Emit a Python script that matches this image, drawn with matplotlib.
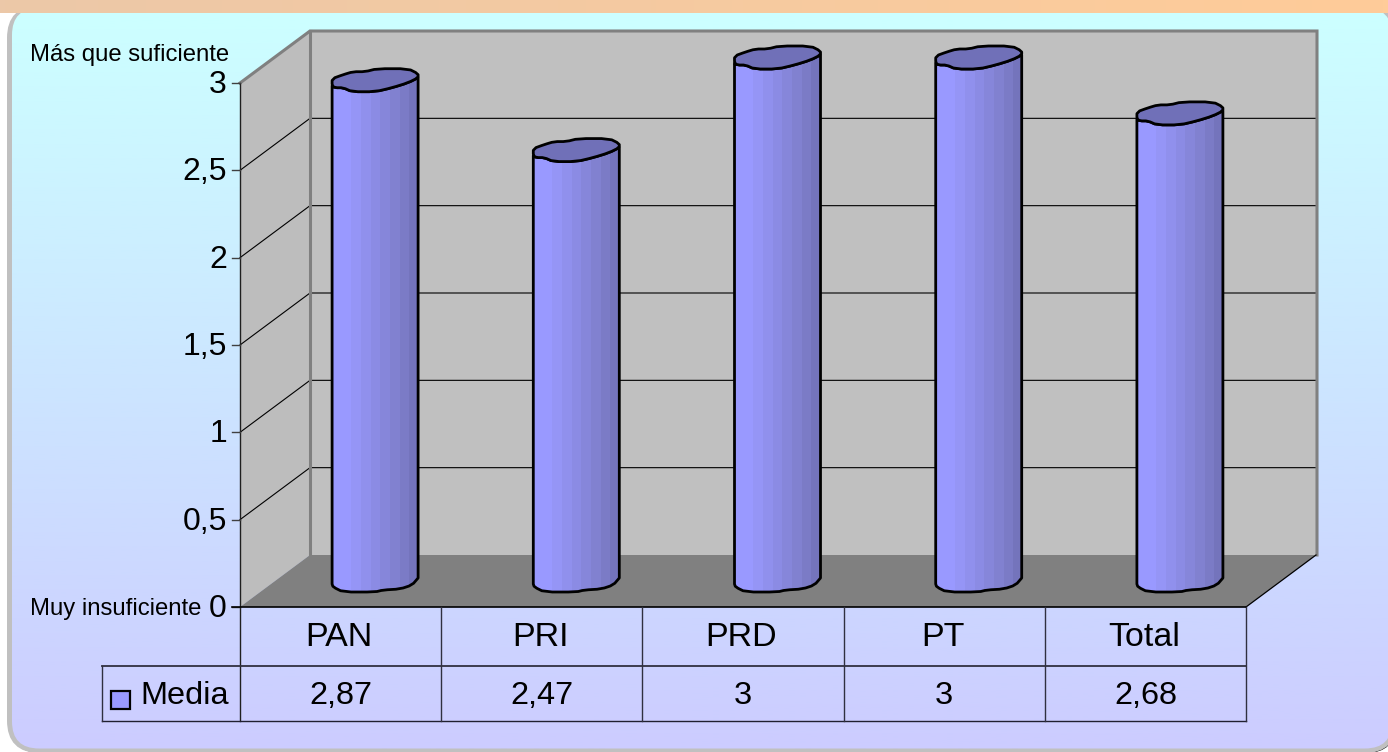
"""Grafica 3D de columnas con tabla de datos: media por partido."""
import numpy as np
import matplotlib
matplotlib.use("Agg")
import matplotlib.pyplot as plt
from matplotlib.colors import LinearSegmentedColormap
from matplotlib.patches import FancyBboxPatch, Polygon, Rectangle

plt.rcParams["font.family"] = ["Liberation Sans", "DejaVu Sans"]

categories = ["PAN", "PRI", "PRD", "PT", "Total"]
values = [2.87, 2.47, 3, 3, 2.68]
value_labels = ["2,87", "2,47", "3", "3", "2,68"]
ticks = [0, 0.5, 1, 1.5, 2, 2.5, 3]
tick_labels = ["0", "0,5", "1", "1,5", "2", "2,5", "3"]
series_name = "Media"
top_note = "Más que suficiente"
bottom_note = "Muy insuficiente"

W, H = 1388, 752
X0, X1 = 240, 1246      # plano frontal
Y0, Y3 = 607, 83        # valor 0 y valor 3
DX, DY = 70, -52        # profundidad 3D
ROW1, ROW2 = 666, 721   # filas de la tabla
LEG_X = 102

# contorno irregular de la columna (relativo al centro)
TOP_SHAPE = [(-43, 6), (-43, -1), (-32, -5), (-22, -8), (-10, -8), (2, -11), (33, -11),
             (43, -6), (43, -2), (33, 3), (17, 8), (0, 12), (-23, 12), (-32, 8), (-40, 8)]
BOTTOM_SHAPE = [(-43, 3), (-42, 6), (-32, 11), (0, 11), (8, 9), (25, 8), (37, 4), (43, -3)]
BAR_STOPS = ["#9999FF", "#9999FF", "#9494F4", "#8F8FEA", "#8989DF", "#8383D3", "#7C7CC8", "#7474BC"]


def val_y(v):
    return Y0 - v * (Y0 - Y3) / max(ticks)


def smooth(points, closed=True):
    # un paso de Chaikin para redondear el contorno
    pts = np.array(points, dtype=float)
    nxt = np.roll(pts, -1, axis=0) if closed else pts[1:]
    cur = pts if closed else pts[:-1]
    out = np.empty((2 * len(cur), 2))
    out[0::2] = 0.75 * cur + 0.25 * nxt
    out[1::2] = 0.25 * cur + 0.75 * nxt
    if not closed:
        out = np.vstack([pts[0], out, pts[-1]])
    return out


fig = plt.figure(figsize=(W / 100, H / 100), dpi=100, facecolor="white")
ax = fig.add_axes([0, 0, 1, 1])
ax.set_axis_off()

# --- fondo: marco redondeado con degradado ---
frame = dict(boxstyle="round,pad=0,rounding_size=30")
ax.add_patch(FancyBboxPatch((11, 10), 1385, 743, fc="black", ec="none", zorder=1, **frame))
ax.add_patch(FancyBboxPatch((9.5, 8), 1385, 742.5, fc="#C0C0C0", ec="#C0C0C0", lw=3.6, zorder=2, **frame))
bg_cmap = LinearSegmentedColormap.from_list("bg", ["#CCFFFF", "#CCCCFF"])
bg = ax.imshow(np.linspace(0, 1, 256)[:, None], extent=[7, W + 10, 749, 13], cmap=bg_cmap,
               aspect="auto", zorder=3)
inner = FancyBboxPatch((12, 8), 1380, 740.5, fc="none", ec="none", zorder=3,
                       boxstyle="round,pad=0,rounding_size=27")
ax.add_patch(inner)
bg.set_clip_path(inner)

strip_cmap = LinearSegmentedColormap.from_list("strip", ["#ECC8A8", "#FFCC99"])
ax.imshow(np.linspace(0, 1, 256)[None, :], extent=[0, W, 13, 0], cmap=strip_cmap,
          aspect="auto", zorder=4)

# --- paredes y piso ---
ax.add_patch(Polygon([(X0, Y3), (X0 + DX, Y3 + DY), (X0 + DX, Y0 + DY), (X0, Y0)],
                     fc="#BDBDBD", ec="none", zorder=5))
ax.add_patch(Rectangle((X0 + DX, Y3 + DY), X1 - X0, Y0 - Y3, fc="#C0C0C0", ec="none", zorder=5))
ax.add_patch(Polygon([(X0, Y0), (X0 + DX, Y0 + DY), (X1 + DX, Y0 + DY), (X1, Y0)],
                     fc="#808080", ec="none", zorder=6))

# rejilla
for t in ticks[1:-1]:
    y = val_y(t)
    ax.plot([X0, X0 + DX, X1 + DX], [y, y + DY, y + DY], color="black", lw=0.8, zorder=6)

# borde gris de las paredes
ax.plot([X0, X0 + DX, X1 + DX + 1, X1 + DX + 1], [Y3, Y3 + DY, Y3 + DY, Y0 + DY],
        color="#808080", lw=2.2, zorder=6, solid_joinstyle="miter")
ax.plot([X0 + DX, X0 + DX], [Y3 + DY, Y0 + DY], color="#808080", lw=2.2, zorder=6)
ax.plot([X1, X1 + DX], [Y0, Y0 + DY], color="black", lw=0.9, zorder=6)

# --- columnas ---
slot = (X1 - X0) / len(categories)
bar_cmap = LinearSegmentedColormap.from_list("bar", BAR_STOPS, N=9)
for i, v in enumerate(values):
    cx = X0 + slot * (i + 0.5) + DX / 2 - 0.5
    top_y = val_y(v) + DY / 2
    base_y = Y0 + DY / 2
    top = [(cx + a, top_y + b) for a, b in TOP_SHAPE]
    bottom = [(cx + a, base_y + b) for a, b in BOTTOM_SHAPE]
    # cuerpo: borde frontal de la tapa + contorno inferior
    body = np.vstack([[top[0]], smooth(bottom, closed=False), [top[8]], smooth(top[8:] + [top[0]], closed=False)])
    body_patch = Polygon(body, closed=True, fc="none", ec="none", zorder=7)
    ax.add_patch(body_patch)
    im = ax.imshow(np.linspace(0, 1, 9)[None, :], extent=[cx - 43, cx + 44, base_y + 12, top_y - 12],
                   cmap=bar_cmap, aspect="auto", interpolation="nearest", zorder=7)
    im.set_clip_path(body_patch)
    ax.add_patch(Polygon(body, closed=True, fc="none", ec="black", lw=2.0, joinstyle="round", zorder=8))
    ax.add_patch(Polygon(smooth(top), closed=True, fc="#7070B8", ec="black", lw=2.0,
                         joinstyle="round", zorder=9))

# --- eje y etiquetas ---
ax.plot([X0, X0], [Y3, ROW2], color="#202020", lw=1.0, zorder=10)
for t, lab in zip(ticks, tick_labels):
    y = val_y(t)
    ax.plot([X0 - 8, X0], [y, y], color="#404040", lw=1.0, zorder=10)
    ax.text(X0 - 13, y + 2, lab, ha="right", va="center", fontsize=23, color="black", zorder=11)
ax.text(30, 55, top_note, ha="left", va="center", fontsize=17.2, color="black", zorder=11)
ax.text(30, 609, bottom_note, ha="left", va="center", fontsize=17.2, color="black", zorder=11)

# --- tabla de datos ---
ax.plot([X0 - 8, X1], [Y0, Y0], color="black", lw=1.2, zorder=10)
ax.plot([LEG_X, X1], [ROW1, ROW1], color="#303040", lw=1.3, zorder=10)
ax.plot([LEG_X, X1], [ROW2, ROW2], color="#202030", lw=1.0, zorder=10)
ax.plot([LEG_X, LEG_X], [ROW1, ROW2], color="#303040", lw=1.0, zorder=10)
for i in range(1, len(categories) + 1):
    x = X0 + slot * i
    ax.plot([x, x], [Y0, ROW2], color="#303040", lw=1.0, zorder=10)
for i, (c, lab) in enumerate(zip(categories, value_labels)):
    x = X0 + slot * (i + 0.5)
    ax.text(x - 1.5, (Y0 + ROW1) / 2 + 1, c, ha="center", va="center", fontsize=24.5, color="black", zorder=11)
    ax.text(x, (ROW1 + ROW2) / 2 + 2, lab, ha="center", va="center", fontsize=23.4, color="black", zorder=11)
ax.add_patch(Rectangle((111, 691), 19, 18, fc="#9999FF", ec="black", lw=1.6, zorder=11))
ax.text(140, (ROW1 + ROW2) / 2 + 3, series_name, ha="left", va="center", fontsize=23.4, color="black", zorder=11)

ax.set_xlim(0, W)
ax.set_ylim(H, 0)
fig.savefig("out.png", dpi=100)
